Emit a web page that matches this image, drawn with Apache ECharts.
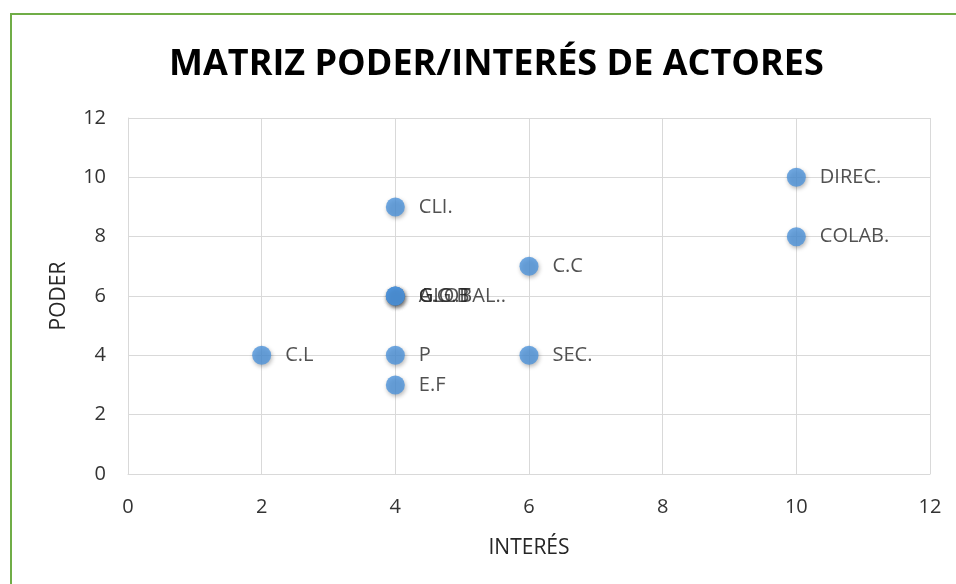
<!DOCTYPE html>
<html>
<head>
<meta charset="utf-8">
<script src="https://cdn.jsdelivr.net/npm/echarts@6/dist/echarts.min.js"></script>
<style>
  html, body { margin: 0; padding: 0; background: #fff; }
  #chart { width: 956px; height: 584px; }
</style>
</head>
<body>
<div id="chart"></div>
<script>
// actors: name, interest (x), power (y)
var actorNames = ['CLI.', 'DIREC.', 'COLAB.', 'C.C', 'A.G.B', 'G.O.T', 'GLOBAL..', 'C.L', 'P', 'SEC.', 'E.F'];
var interest   = [4, 10, 10, 6, 4, 4, 4, 2, 4, 6, 4];
var power      = [9, 10, 8, 7, 6, 6, 6, 4, 4, 4, 3];
var axisTicks  = [0, 2, 4, 6, 8, 10, 12];

var chart = echarts.init(document.getElementById('chart'));

var points = actorNames.map(function (name, i) {
  return { name: name, value: [interest[i], power[i]] };
});

var font = '"Open Sans", "Noto Sans", sans-serif';

var option = {
  backgroundColor: '#fff',
  animation: false,
  title: {
    text: 'MATRIZ PODER/INTERÉS DE ACTORES',
    left: 164,
    top: 42,
    textStyle: {
      fontFamily: font,
      fontSize: 36,
      fontWeight: 'bold',
      color: '#000'
    }
  },
  graphic: [
    {
      type: 'rect',
      shape: { x: 11, y: 14, width: 960, height: 600 },
      style: { fill: 'none', stroke: '#70AD47', lineWidth: 2 }
    }
  ],
  grid: {
    left: 128,
    right: 26,
    top: 118,
    bottom: 110
  },
  xAxis: {
    type: 'value',
    min: axisTicks[0],
    max: axisTicks[axisTicks.length - 1],
    interval: 2,
    name: 'INTERÉS',
    nameLocation: 'middle',
    nameGap: 64,
    nameTextStyle: { fontFamily: font, fontSize: 21, color: '#262626' },
    axisLine: { show: true, lineStyle: { color: '#d9d9d9' } },
    axisTick: { show: false },
    axisLabel: { fontFamily: font, fontSize: 20, color: '#333', margin: 23 },
    splitLine: { show: true, lineStyle: { color: '#d9d9d9' } }
  },
  yAxis: {
    type: 'value',
    min: axisTicks[0],
    max: axisTicks[axisTicks.length - 1],
    interval: 2,
    name: 'PODER',
    nameLocation: 'middle',
    nameGap: 58,
    nameTextStyle: { fontFamily: font, fontSize: 21, color: '#262626' },
    axisLine: { show: true, lineStyle: { color: '#d9d9d9' } },
    axisTick: { show: false },
    axisLabel: { fontFamily: font, fontSize: 20, color: '#333', margin: 22 },
    splitLine: { show: true, lineStyle: { color: '#d9d9d9' } }
  },
  series: [
    {
      type: 'scatter',
      data: points,
      symbolSize: 19,
      itemStyle: {
        color: '#4D94DB',
        shadowBlur: 4,
        shadowOffsetX: 1,
        shadowOffsetY: 2,
        shadowColor: 'rgba(0,0,0,0.35)'
      },
      label: {
        show: true,
        position: 'right',
        distance: 14,
        formatter: '{b}',
        fontFamily: font,
        fontSize: 20,
        color: '#262626'
      },
      labelLayout: { hideOverlap: false }
    }
  ]
};

chart.setOption(option);
</script>
</body>
</html>
